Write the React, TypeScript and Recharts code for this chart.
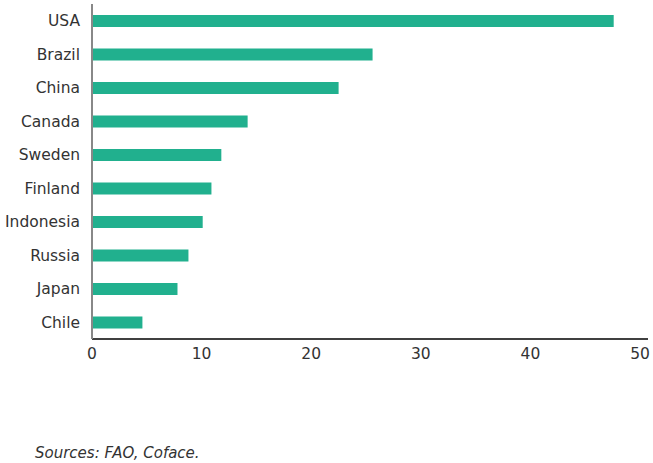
import React from "react";
import { BarChart, Bar, XAxis, YAxis } from "recharts";

const countries = ["USA", "Brazil", "China", "Canada", "Sweden", "Finland", "Indonesia", "Russia", "Japan", "Chile"];
const values = [47.6, 25.6, 22.5, 14.2, 11.8, 10.9, 10.1, 8.8, 7.8, 4.6];
const xTicks = [0, 10, 20, 30, 40, 50];

const data = countries.map((c, i) => ({ country: c, value: values[i] }));

const FONT = "'DejaVu Sans', sans-serif";

export default function App() {
  return (
    <div style={{ position: "absolute", left: 0, top: 0, width: 653, height: 463, background: "#fff", fontFamily: FONT }}>
      <BarChart
        width={653}
        height={375}
        data={data}
        layout="vertical"
        margin={{ top: 4, right: 5, bottom: 6, left: 0 }}
      >
        <XAxis
          type="number"
          domain={[0, 50]}
          ticks={xTicks}
          padding={{ left: 0, right: 8 }}
          axisLine={{ stroke: "#000", strokeWidth: 1.5 }}
          tickLine={false}
          tickMargin={3}
          height={30}
          tick={{ fill: "#333", fontSize: 15.5, fontFamily: FONT }}
        />
        <YAxis
          type="category"
          dataKey="country"
          width={92}
          axisLine={{ stroke: "#888", strokeWidth: 2 }}
          tickLine={false}
          tickMargin={6}
          tick={{ fill: "#333", fontSize: 15.5, fontFamily: FONT }}
        />
        <Bar dataKey="value" fill="#21B08E" barSize={12} isAnimationActive={false} />
      </BarChart>
      <div
        style={{
          position: "absolute",
          left: 35,
          top: 444,
          fontSize: 15,
          fontStyle: "italic",
          color: "#333",
          fontFamily: FONT,
        }}
      >
        Sources: FAO, Coface.
      </div>
    </div>
  );
}
